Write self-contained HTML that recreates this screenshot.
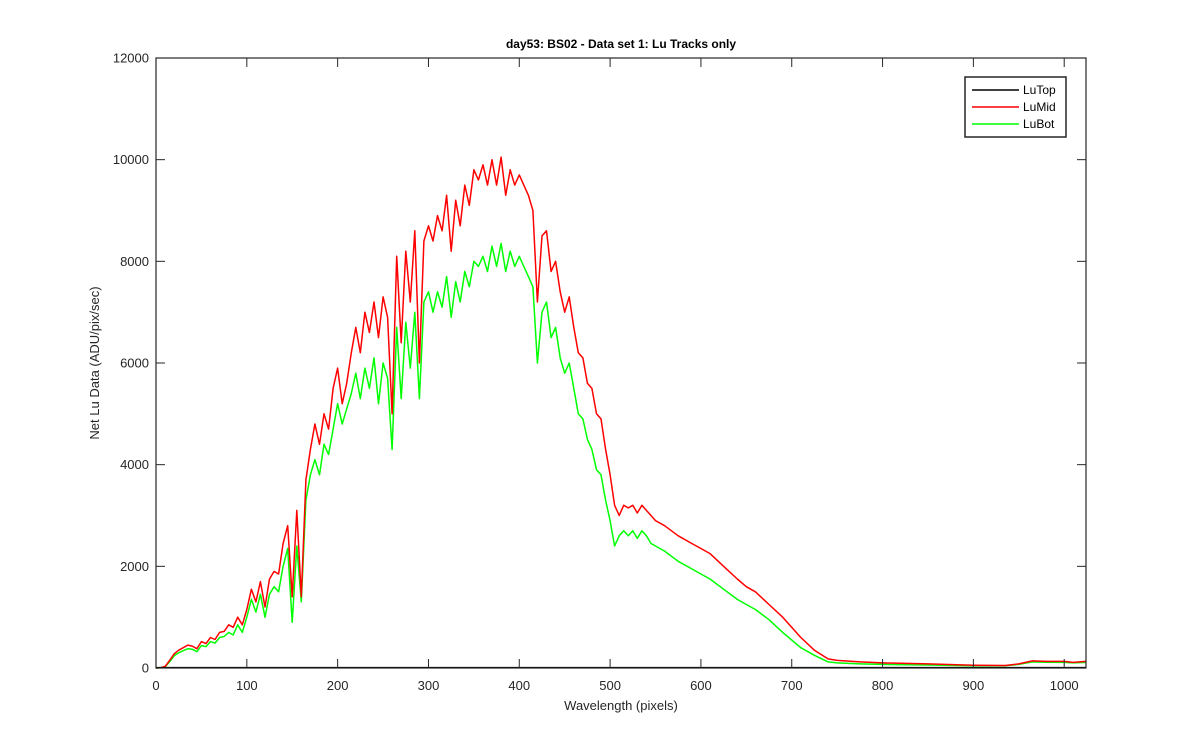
<!DOCTYPE html>
<html><head><meta charset="utf-8"><style>
body{margin:0;background:#fff;}
svg text{font-family:"Liberation Sans",Arial,sans-serif;}
</style></head><body>
<svg id="chart" width="1200" height="750" xmlns="http://www.w3.org/2000/svg">
<rect width="1200" height="750" fill="#fff"/>
<g id="plot"></g>
<g id="axes"></g>
<text x="621" y="48" text-anchor="middle" font-size="12" font-weight="bold" fill="#000">day53: BS02 - Data set 1: Lu Tracks only</text>
<text x="621" y="710" text-anchor="middle" font-size="13" fill="#262626">Wavelength (pixels)</text>
<text transform="translate(99,363) rotate(-90)" text-anchor="middle" font-size="13" fill="#262626">Net Lu Data (ADU/pix/sec)</text>
<g>
<rect x="965" y="77" width="101" height="60" fill="#fff" stroke="#262626" stroke-width="1.5"/>
<line x1="972" y1="90" x2="1019" y2="90" stroke="#000" stroke-width="1.5"/>
<text x="1023" y="94" font-size="12" fill="#000">LuTop</text>
<line x1="972" y1="107" x2="1019" y2="107" stroke="#ff0000" stroke-width="1.5"/>
<text x="1023" y="111" font-size="12" fill="#000">LuMid</text>
<line x1="972" y1="124" x2="1019" y2="124" stroke="#00ff00" stroke-width="1.5"/>
<text x="1023" y="128" font-size="12" fill="#000">LuBot</text>
</g>
</svg>
<script>
const wavelengths=[0,5,10,15,20,25,30,35,40,45,50,55,60,65,70,75,80,85,90,95,100,105,110,115,120,125,130,135,140,145,150,155,160,165,170,175,180,185,190,195,200,205,210,215,220,225,230,235,240,245,250,255,260,265,270,275,280,285,290,295,300,305,310,315,320,325,330,335,340,345,350,355,360,365,370,375,380,385,390,395,400,405,410,415,420,425,430,435,440,445,450,455,460,465,470,475,480,485,490,495,500,505,510,515,520,525,530,535,540,545,550,560,575,590,600,610,625,640,650,660,675,690,700,710,725,740,750,775,800,850,900,935,950,965,980,1000,1010,1024];
const luMid=[0,5,30,150,280,350,400,450,430,380,520,480,600,560,700,720,850,800,1000,850,1150,1550,1300,1700,1200,1750,1900,1850,2450,2800,1400,3100,1400,3700,4300,4800,4400,5000,4700,5500,5900,5200,5600,6200,6700,6200,7000,6600,7200,6500,7300,6900,5000,8100,6400,8200,7200,8600,6000,8400,8700,8400,8900,8600,9300,8200,9200,8700,9500,9100,9800,9600,9900,9500,10000,9500,10050,9300,9800,9500,9700,9500,9300,9000,7200,8500,8600,7800,8000,7400,7000,7300,6700,6200,6100,5600,5500,5000,4900,4300,3800,3200,3000,3200,3150,3200,3050,3200,3100,3000,2900,2800,2600,2450,2350,2250,2000,1750,1600,1500,1250,1000,800,600,350,180,150,120,100,80,55,50,80,140,130,130,110,130];
const luBot=[0,5,25,120,240,300,340,380,370,320,440,420,520,490,600,620,700,650,850,700,1000,1350,1100,1450,1000,1450,1600,1500,2000,2350,900,2400,1300,3300,3800,4100,3800,4400,4200,4700,5200,4800,5100,5400,5800,5300,5900,5500,6100,5200,6000,5700,4300,6700,5300,6800,5900,7000,5300,7200,7400,7000,7400,7100,7700,6900,7600,7200,7800,7500,8000,7900,8100,7800,8300,7900,8350,7800,8200,7900,8100,7900,7700,7500,6000,7000,7200,6500,6700,6100,5800,6000,5500,5000,4900,4500,4300,3900,3800,3300,2900,2400,2600,2700,2600,2700,2550,2700,2600,2450,2400,2300,2100,1950,1850,1750,1550,1350,1250,1150,950,700,550,400,250,120,100,80,70,60,45,45,70,120,115,110,100,110];
const luTop=[8,8,8,8,8,8,8,8,8,8,8,8,8,8,8,8,8,8,8,8,8,8,8,8,8,8,8,8,8,8,8,8,8,8,8,8,8,8,8,8,8,8,8,8,8,8,8,8,8,8,8,8,8,8,8,8,8,8,8,8,8,8,8,8,8,8,8,8,8,8,8,8,8,8,8,8,8,8,8,8,8,8,8,8,8,8,8,8,8,8,8,8,8,8,8,8,8,8,8,8,8,8,8,8,8,8,8,8,8,8,8,8,8,8,8,8,8,8,8,8,8,8,8,8,8,8,8,8,8,8,8,8,8,8,8,8,8,8];
const xTicks=[0,100,200,300,400,500,600,700,800,900,1000];
const yTicks=[0,2000,4000,6000,8000,10000,12000];

const X0=156,X1=1086,Y0=668,Y1=58,XMAX=1024,YMAX=12000;
const sx=v=>X0+(v/XMAX)*(X1-X0);
const sy=v=>Y0-(v/YMAX)*(Y0-Y1);
const NS="http://www.w3.org/2000/svg";
const plot=document.getElementById('plot'),axes=document.getElementById('axes');
function mk(tag,parent){const e=document.createElementNS(NS,tag);parent.appendChild(e);return e;}
function series(vals,color,name){
  const p=mk('path',plot);
  
  
  p.setAttribute('d',vals.map((v,i)=>(i?'L':'M')+sx(wavelengths[i]).toFixed(1)+','+sy(v).toFixed(1)).join(''));
  p.setAttribute('fill','none');p.setAttribute('stroke',color);p.setAttribute('stroke-width','1.5');p.setAttribute('stroke-linejoin','round');
}
series(luBot,'#00ff00','series-lubot');
series(luMid,'#ff0000','series-lumid');
series(luTop,'#000000','series-lutop');
const box=mk('rect',axes);


box.setAttribute('x',X0);box.setAttribute('y',Y1);box.setAttribute('width',X1-X0);box.setAttribute('height',Y0-Y1);
box.setAttribute('fill','none');box.setAttribute('stroke','#262626');box.setAttribute('stroke-width','1.2');
xTicks.forEach(t=>{
  const x=sx(t);
  [[Y0,Y0-9],[Y1,Y1+9]].forEach(([a,b])=>{const l=mk('line',axes);
    
    
    l.setAttribute('x1',x);l.setAttribute('x2',x);l.setAttribute('y1',a);l.setAttribute('y2',b);l.setAttribute('stroke','#262626');});
  const tx=mk('text',axes);
  
  
  tx.setAttribute('x',x);tx.setAttribute('y',Y0+22);tx.setAttribute('text-anchor','middle');tx.setAttribute('font-size','13');tx.setAttribute('fill','#262626');tx.textContent=t;
});
yTicks.forEach(t=>{
  const y=sy(t);
  [[X0,X0+9],[X1,X1-9]].forEach(([a,b])=>{const l=mk('line',axes);
    
    
    l.setAttribute('x1',a);l.setAttribute('x2',b);l.setAttribute('y1',y);l.setAttribute('y2',y);l.setAttribute('stroke','#262626');});
  const tx=mk('text',axes);
  
  
  tx.setAttribute('x',X0-7);tx.setAttribute('y',y+4.5);tx.setAttribute('text-anchor','end');tx.setAttribute('font-size','13');tx.setAttribute('fill','#262626');tx.textContent=t;
});
</script>
</body></html>
